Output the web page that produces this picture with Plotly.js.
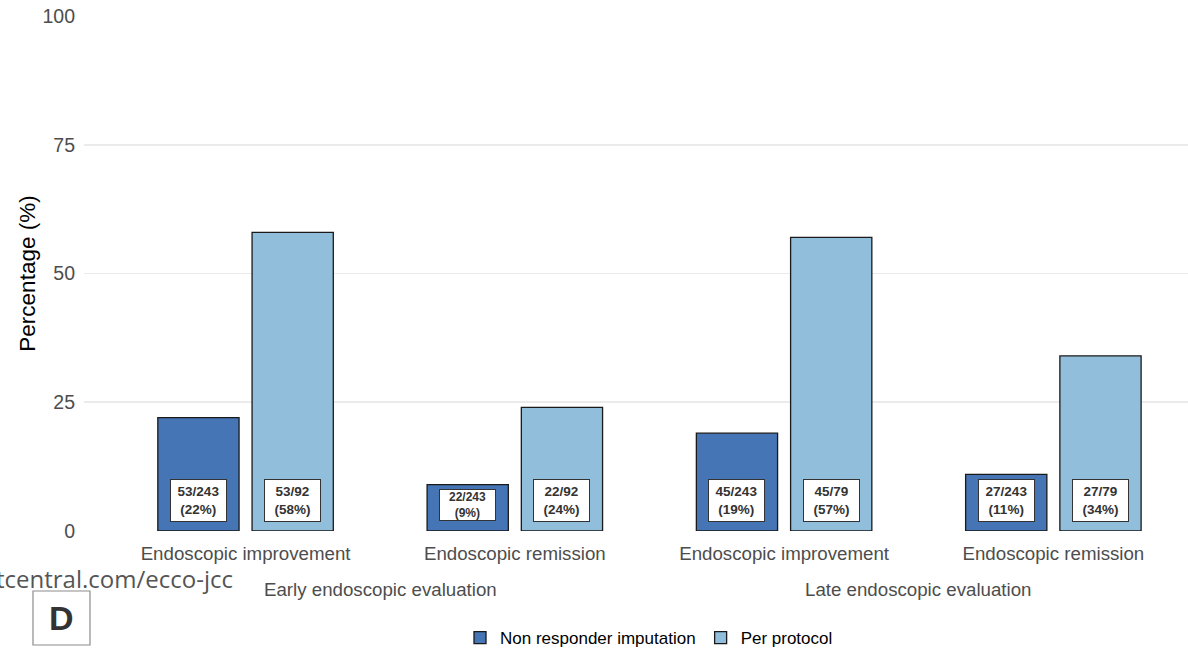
<!DOCTYPE html>
<html>
<head>
<meta charset="utf-8">
<script src="https://cdn.plot.ly/plotly-3.0.1.min.js"></script>
<style>
  html, body { margin: 0; padding: 0; background: #ffffff; }
  #chart { width: 1188px; height: 651px; }
</style>
</head>
<body>
<div id="chart"></div>
<script>
// Endoscopic outcomes by evaluation time and analysis set
const evaluations = ['Early endoscopic evaluation', 'Early endoscopic evaluation',
                     'Late endoscopic evaluation', 'Late endoscopic evaluation'];
const outcomes = ['Endoscopic improvement', 'Endoscopic remission',
                  'Endoscopic improvement', 'Endoscopic remission'];

const nriPercent = [22, 9, 19, 11];
const nriCounts = ['53/243', '22/243', '45/243', '27/243'];
const ppPercent = [58, 24, 57, 34];
const ppCounts = ['53/92', '22/92', '45/79', '27/79'];

const seriesNames = ['Non responder imputation', 'Per protocol'];
const colors = ['#4575b4', '#91bfdb'];

// One slot per outcome, in order; the slot index is the bar position
const slots = outcomes.map(function (_, i) { return i; });

const traces = [
  {
    type: 'bar', name: seriesNames[0], x: slots, y: nriPercent,
    marker: { color: colors[0], line: { color: '#1a1a1a', width: 1.3 } },
    hoverinfo: 'skip'
  },
  {
    type: 'bar', name: seriesNames[1], x: slots, y: ppPercent,
    marker: { color: colors[1], line: { color: '#1a1a1a', width: 1.3 } },
    hoverinfo: 'skip'
  }
];

// Plot area in pixels, used to place text outside the axes
const M = { l: 84, r: 0, t: 16, b: 120 };
const W = 1188, H = 651;
const pw = W - M.l - M.r, ph = H - M.t - M.b;
const px = function (X) { return (X - M.l) / pw; };
const py = function (Y) { return (M.t + ph - Y) / ph; };

const annotations = [];

// Count / percentage labels near the base of each bar
const offsets = [-0.175, 0.175];
[[nriPercent, nriCounts], [ppPercent, ppCounts]].forEach(function (pair, s) {
  pair[0].forEach(function (v, i) {
    const small = v < 10;
    annotations.push({
      xref: 'x', yref: 'y',
      x: slots[i] + offsets[s],
      y: Math.min(6, v / 2 + 0.5),
      text: '<b>' + pair[1][i] + '<br>(' + v + '%)</b>',
      showarrow: false,
      font: { family: 'Liberation Sans, Arial, sans-serif', size: small ? 12 : 13.5, color: '#333333' },
      bgcolor: '#ffffff',
      bordercolor: '#333333',
      borderwidth: 1,
      borderpad: 0,
      width: 55,
      height: small ? 30 : 41,
      align: 'center',
      valign: 'middle'
    });
  });
});

// Evaluation-time labels centred under each pair of outcomes
const groups = [];
evaluations.forEach(function (g, i) {
  let e = groups.find(function (q) { return q.name === g; });
  if (!e) { e = { name: g, idx: [] }; groups.push(e); }
  e.idx.push(slots[i]);
});
groups.forEach(function (g) {
  const mid = g.idx.reduce(function (a, b) { return a + b; }, 0) / g.idx.length;
  annotations.push({
    xref: 'x', yref: 'paper', x: mid, y: py(589),
    xanchor: 'center', yanchor: 'middle',
    text: g.name, showarrow: false,
    font: { family: 'Liberation Sans, Arial, sans-serif', size: 18.7, color: '#4d4d4d' }
  });
});

// Source line (runs off the left edge) and panel letter
annotations.push({
  xref: 'paper', yref: 'paper', x: px(235), y: py(578),
  xanchor: 'right', yanchor: 'middle',
  text: 'tcentral.com/ecco-jcc', showarrow: false,
  font: { family: 'Open Sans, Noto Sans, sans-serif', size: 24, color: '#555555' }
});
annotations.push({
  xref: 'paper', yref: 'paper', x: px(61.5), y: py(618),
  xanchor: 'center', yanchor: 'middle',
  text: '<b>D</b>', showarrow: false,
  font: { family: 'Liberation Sans, Arial, sans-serif', size: 34, color: '#333333' }
});

const layout = {
  width: W, height: H,
  margin: Object.assign({ autoexpand: false }, M),
  paper_bgcolor: '#ffffff', plot_bgcolor: '#ffffff',
  barmode: 'group', bargap: 0.30, bargroupgap: 0.138,
  font: { family: 'Liberation Sans, Arial, sans-serif' },
  xaxis: {
    range: [-0.6, 3.5],
    tickvals: slots, ticktext: outcomes,
    showgrid: false, showline: false, zeroline: false, ticks: '',
    automargin: false,
    ticklabelstandoff: 9,
    tickfont: { size: 18.7, color: '#4d4d4d' }
  },
  yaxis: {
    range: [0, 100],
    tickvals: [0, 25, 50, 75, 100],
    showgrid: true, gridcolor: '#ebebeb', gridwidth: 1.6,
    zeroline: false, showline: false, ticks: '',
    automargin: false,
    ticklabelstandoff: 8,
    tickfont: { size: 19.5, color: '#4d4d4d' },
    title: { text: 'Percentage (%)', font: { size: 22.5, color: '#000000' }, standoff: 0 }
  },
  showlegend: true,
  legend: {
    orientation: 'h', x: px(649), xanchor: 'center',
    yref: 'container', y: 1 - 638 / H, yanchor: 'middle',
    font: { size: 17, color: '#000000' },
    traceorder: 'normal'
  },
  shapes: [{
    type: 'rect', xref: 'paper', yref: 'paper',
    x0: px(33), x1: px(90), y0: py(645), y1: py(591),
    line: { color: '#8c8c8c', width: 1.2 }, fillcolor: 'rgba(0,0,0,0)'
  }],
  annotations: annotations
};

Plotly.newPlot('chart', traces, layout, { displayModeBar: false, staticPlot: true });
</script>
</body>
</html>
